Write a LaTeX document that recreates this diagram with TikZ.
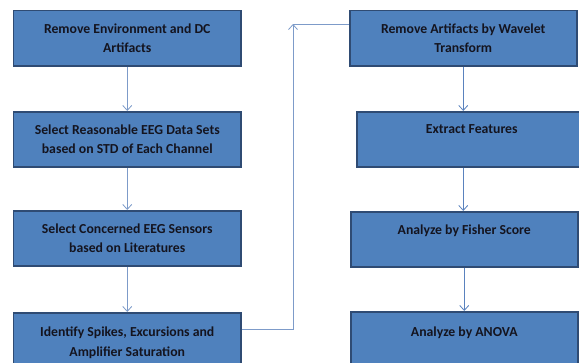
\documentclass[tikz,border=0pt]{standalone}
\usepackage{fontspec}
\setmainfont{Carlito}
\usetikzlibrary{arrows.meta,positioning}
\definecolor{boxfill}{HTML}{4F81BD}
\definecolor{boxline}{HTML}{2F4B73}
\definecolor{conn}{HTML}{7D9BC9}
\definecolor{connr}{HTML}{5A82BE}
\definecolor{txt}{HTML}{14141F}
\tikzset{
  stepbox/.style={draw=boxline, line width=1.5pt, fill=boxfill, anchor=north west,
    minimum width=#1, minimum height=55bp, inner sep=0pt, align=center,
    font=\fontsize{13.8}{19.5}\selectfont\bfseries, text=txt},
  stepbox/.default=227bp,
  conn/.style={draw=conn, line width=0.8pt},
  arr/.style={conn, -{Straight Barb[length=5bp,width=9bp,line width=0.8pt]}},
  arrr/.style={arr, draw=connr, line width=1pt}
}
\begin{document}
\begin{tikzpicture}[x=1bp,y=-1bp]
\useasboundingbox (0,0) rectangle (579,362);
\node[stepbox] (L1) at (13,10) {Remove Environment and DC\\Artifacts};
\node[stepbox] (L2) at (13,111) {Select Reasonable EEG Data Sets\\based on STD of Each Channel};
\node[stepbox] (L3) at (13,210) {Select Concerned EEG Sensors\\based on Literatures};
\node[stepbox, minimum height=60bp] (L4) at (13,312) {Identify Spikes, Excursions and\\Amplifier Saturation};
\node[stepbox] (R1) at (349,10) {Remove Artifacts by Wavelet\\Transform};
\node[stepbox, minimum width=230bp] (R2) at (356,111) {Extract Features\\\mbox{}};
\node[stepbox] (R3) at (350,211) {Analyze by Fisher Score\\\mbox{}};
\node[stepbox, minimum height=60bp] (R4) at (350,311) {Analyze by ANOVA\\\mbox{}};
\draw[arr] (L1) -- (L2);
\draw[arr] (L2) -- (L3);
\draw[arr] (L3) -- (L4);
\coordinate (up) at (293,24);
\draw[arr] (L4.east |- 0,329) -| (up);
\draw[conn] (up) -- (R1.west |- up);
\draw[arrr] (R1) -- (R2.north -| R1.south);
\draw[arrr] (R2.south -| R1.south) -- (R3.north -| R1.south);
\draw[arrr] (R3) -- (R4);
\end{tikzpicture}
\end{document}
